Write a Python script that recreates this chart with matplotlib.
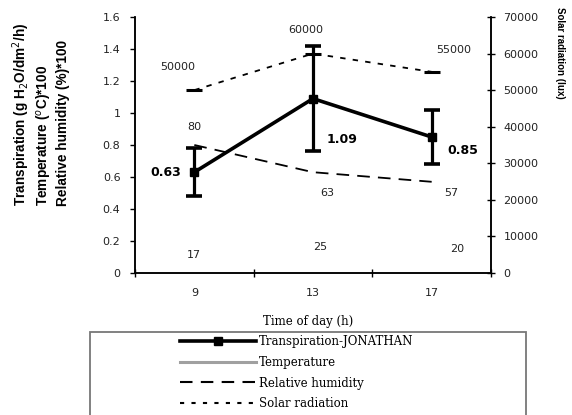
import numpy as np
import matplotlib
matplotlib.use("Agg")
import matplotlib.pyplot as plt
from matplotlib.lines import Line2D
from matplotlib.patches import Rectangle

# data
hours = ["9", "13", "17"]
transpiration = [0.63, 1.09, 0.85]
transp_err = [0.15, 0.33, 0.17]
temperature = [17, 25, 20]
rel_humidity = [80, 63, 57]
solar = [50000, 60000, 55000]

W, H = 572, 415
fig = plt.figure(figsize=(W / 100, H / 100), dpi=100)
ax = fig.add_axes([135 / W, 1 - 273 / H, (491 - 135) / W, (273 - 17) / H])
ax2 = ax.twinx()

x = np.arange(len(hours))
temp_scaled = [t / 100 for t in temperature]
rh_scaled = [r / 100 for r in rel_humidity]

# solar radiation on the right axis
ax2.plot(x, solar, color="black", lw=1.3, ls=(0, (3, 4)),
         marker="_", ms=11, mew=2.2)
ax2.set_ylim(0, 70000)

# relative humidity (dashed), temperature line is not visible in the original
ax.plot(x, rh_scaled, color="black", lw=1.3, ls=(0, (7, 4.5)))

ax.errorbar(x, transpiration, yerr=transp_err, color="black", lw=2.6,
            elinewidth=2.3, capsize=5.8, capthick=2.6,
            marker="s", ms=5.5, mfc="black", zorder=5)

ax.set_xlim(-0.5, 2.5)
ax.set_ylim(0, 1.6)
ax.set_yticks(np.arange(0, 1.61, 0.2))
ax.set_yticklabels(["0", "0.2", "0.4", "0.6", "0.8", "1", "1.2", "1.4", "1.6"])
ax.set_xticks([-0.5, 0.5, 1.5, 2.5])
ax.set_xticklabels([])
ax.set_xticks(x, minor=True)
ax.set_xticklabels(hours, minor=True)

tick_font = dict(labelsize=8, labelcolor="#222222")
ax.tick_params(axis="y", direction="out", length=3.5, width=1, pad=7, **tick_font)
ax.tick_params(axis="x", which="major", direction="inout", length=6, width=1)
ax.tick_params(axis="x", which="minor", length=0, pad=11, **tick_font)
ax2.tick_params(axis="y", direction="inout", length=6, width=1, pad=6, **tick_font)
ax2.set_yticks(np.arange(0, 70001, 10000))

for a in (ax, ax2):
    a.spines["top"].set_visible(False)
    for s in ("left", "right", "bottom"):
        a.spines[s].set_linewidth(1.1)

# value labels
lab = dict(fontsize=8, color="#222222", ha="center", va="center",
           textcoords="offset pixels")
sol_off = [(-17, 23), (-7, 24), (22, 22)]
for xi, v, off in zip(x, solar, sol_off):
    ax2.annotate(f"{v}", (xi, v), xytext=off, **lab)
rh_off = [(0, 18), (14, -21), (20, -11)]
for xi, v, r, off in zip(x, rh_scaled, rel_humidity, rh_off):
    ax.annotate(f"{r}", (xi, v), xytext=off, **lab)
t_off = [(0, -9), (7, -14), (26, -8)]
for xi, v, t, off in zip(x, temp_scaled, temperature, t_off):
    ax.annotate(f"{t}", (xi, v), xytext=off, **lab)
tr_off = [(-29, 0), (29, -41), (31, -13)]
for xi, v, off in zip(x, transpiration, tr_off):
    ax.annotate(f"{v:.2f}", (xi, v), xytext=off, fontsize=9,
                fontweight="bold", color="black", ha="center", va="center",
                textcoords="offset pixels", zorder=6)

# axis titles
fig.text(40 / W, 1 - 114 / H,
         "Transpiration (g H$_2$O/dm$^2$/h)\nTemperature ($^o$C)*100\nRelative humidity (%)*100",
         rotation=90, ha="center", va="center", multialignment="left",
         fontsize=9.8, fontweight="bold", family="Liberation Sans", linespacing=1.2)
fig.text(560 / W, 1 - 53 / H, "Solar radiation (lux)", rotation=-90,
         ha="center", va="center", fontsize=7, fontweight="bold",
         family="Liberation Sans")
fig.text(308 / W, 1 - 321 / H, "Time of day (h)", ha="center", va="center",
         fontsize=8.5, family="DejaVu Serif")

# legend with its own frame
fig.patches.append(Rectangle((90 / W, -0.01), (526 - 90) / W, (1 - 332 / H) + 0.01,
                             transform=fig.transFigure, fill=False,
                             edgecolor="#777777", lw=1.3))
handles = [
    Line2D([], [], color="black", lw=2.6, marker="s", ms=5.5),
    Line2D([], [], color="#a0a0a0", lw=2.2),
    Line2D([], [], color="black", lw=1.5, ls=(0, (6, 4))),
    Line2D([], [], color="black", lw=1.5, ls=(0, (2, 3.5))),
]
labels = ["Transpiration-JONATHAN", "Temperature", "Relative humidity",
          "Solar radiation"]
fig.legend(handles, labels, loc="upper left",
           bbox_to_anchor=(180 / W, 1 - 335 / H), frameon=False,
           borderpad=0, borderaxespad=0, handlelength=6.4, handletextpad=0.25,
           labelspacing=0.66, numpoints=1,
           prop=dict(family="DejaVu Serif", size=8.5))

fig.savefig("out.png", dpi=100)
